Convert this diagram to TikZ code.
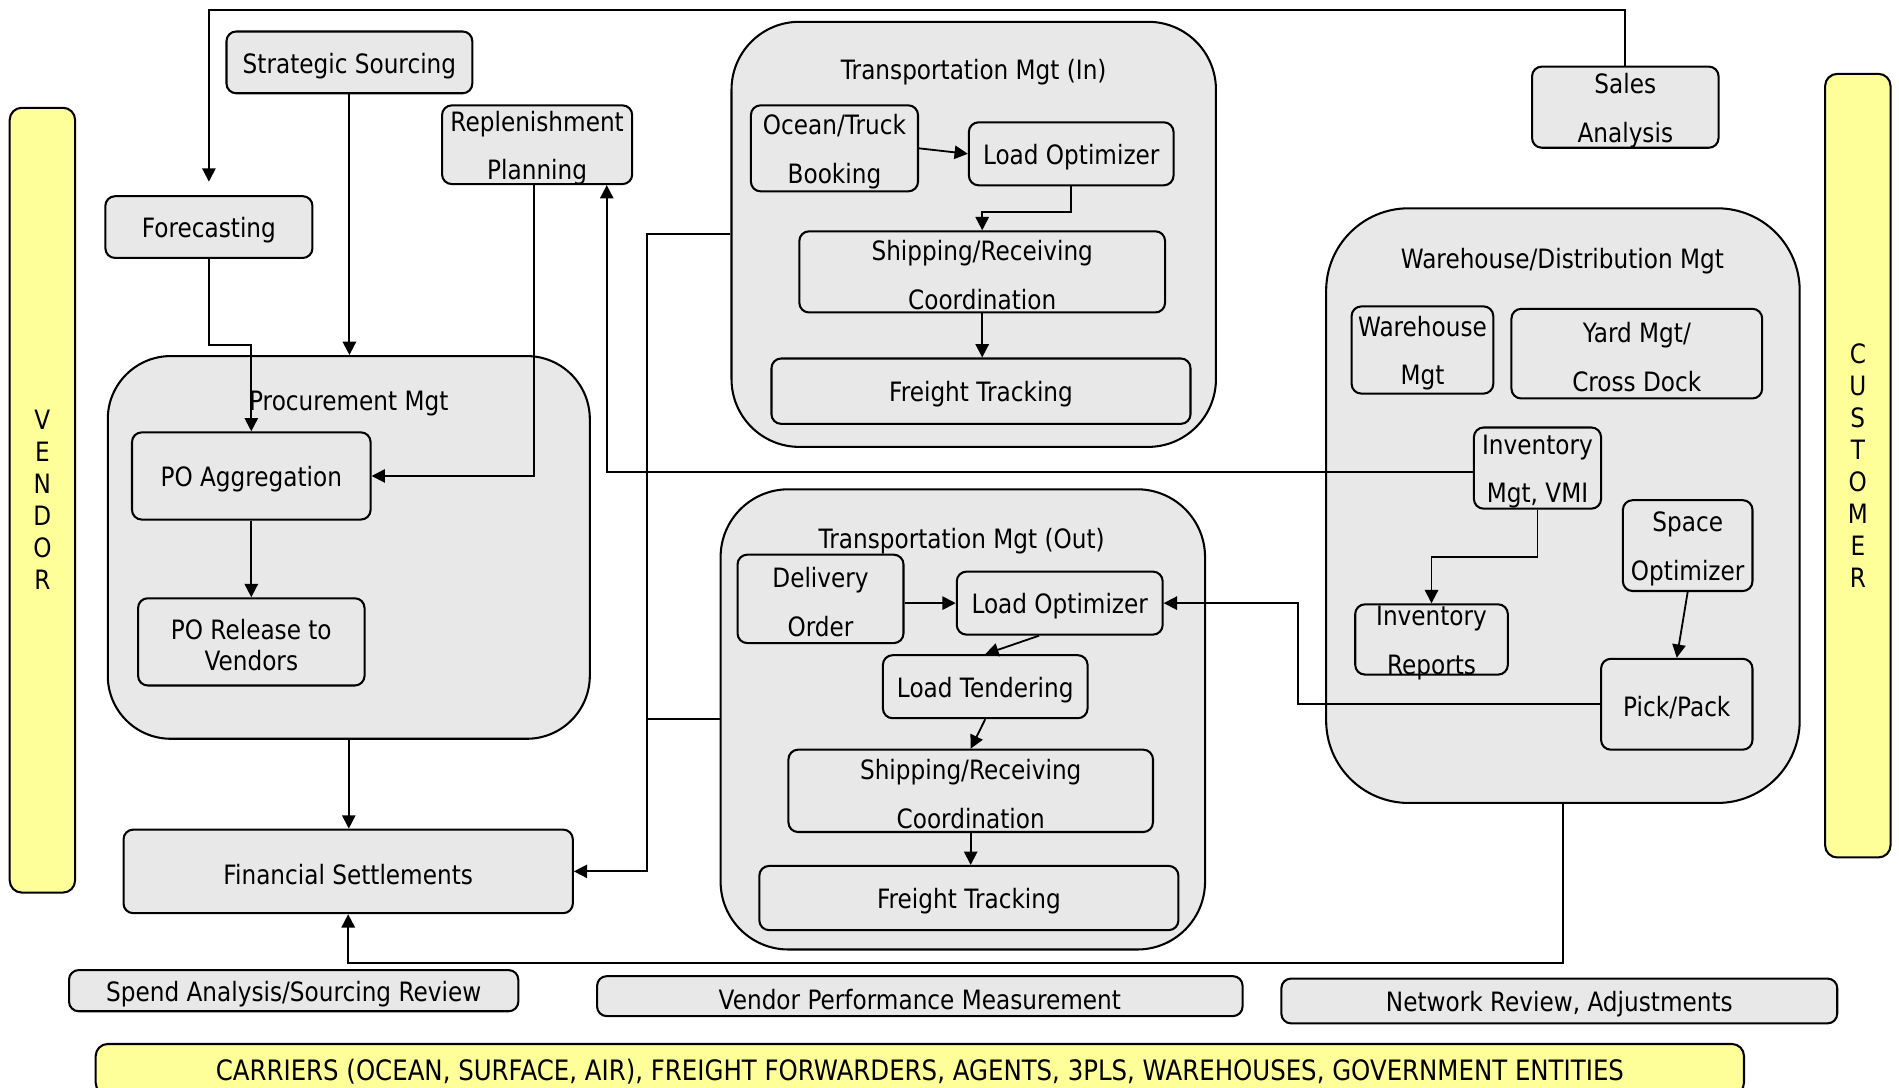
\documentclass[tikz,border=0pt]{standalone}
\usepackage{fontspec}
\setmainfont{DejaVu Sans}[FakeStretch=0.87]
\usetikzlibrary{arrows.meta}
\definecolor{boxgray}{HTML}{E8E8E8}
\definecolor{lemon}{HTML}{FFFF99}
\begin{document}
\begin{tikzpicture}[x=0.5pt,y=-0.5pt,
  sz/.style 2 args={minimum width=#1*0.5pt, minimum height=#2*0.5pt},
  base/.style={draw=black, line width=0.85pt, fill=boxgray, inner sep=0pt, font=\fontsize{11}{20}\selectfont, align=center},
  box/.style={base, rounded corners=4pt},
  group/.style={base, rounded corners=#1},
  band/.style={base, fill=lemon, rounded corners=5pt},
  ttl/.style={inner sep=0pt, font=\fontsize{11}{20}\selectfont},
  lbl/.style={inner sep=0pt, font=\fontsize{11}{20}\selectfont, align=center, yshift=-1.4pt},
  tx/.style={label={[lbl]center:#1}},
  txs/.style={label={[lbl, font=\fontsize{11}{13}\selectfont]center:#1}},
  wire/.style={draw=black, line width=0.75pt},
  arr/.style={wire, -{Triangle[length=5.5pt,width=5.5pt]}},
]
\useasboundingbox (0,0) rectangle (1568,898);
% side and bottom bands
\node[band, sz={54}{648}, font=\fontsize{11}{13.2}\selectfont] (vendor) at (35,413) {V\\E\\N\\D\\O\\R};
\node[band, sz={54}{647}, font=\fontsize{11}{13.2}\selectfont] (cust) at (1534,384.5) {C\\U\\S\\T\\O\\M\\E\\R};
\node[band, sz={1361}{42}, label={[lbl, font=\fontsize{11.6}{14}\selectfont, yshift=0.3pt]center:CARRIERS (OCEAN, SURFACE, AIR), FREIGHT FORWARDERS, AGENTS, 3PLS, WAREHOUSES, GOVERNMENT ENTITIES}] (carr) at (759.5,883) {};
% groups
\node[group=26pt, sz={398}{316}] (pm) at (288,452) {};
\node[ttl] (pmt) at (288,333.5) {Procurement Mgt};
\node[group=28pt, sz={400}{351}] (tin) at (804,193.5) {};
\node[ttl] (tint) at (804,59.5) {Transportation Mgt (In)};
\node[group=28pt, sz={400}{380}] (tout) at (795,594) {};
\node[ttl] (toutt) at (794,447) {Transportation Mgt (Out)};
\node[group=34pt, sz={391}{491}] (wh) at (1290.5,417.5) {};
\node[ttl] (wht) at (1290,215.5) {Warehouse/Distribution Mgt};
% planning / procurement
\node[box, sz={203}{51}, tx={Strategic Sourcing}] (ss) at (288.5,51.5) {};
\node[box, sz={171}{51}, tx={Forecasting}] (fc) at (172.5,187.5) {};
\node[box, sz={157}{65}, tx={Replenishment\\Planning}] (rp) at (443.5,119.5) {};
\node[box, sz={197}{72}, tx={PO Aggregation}] (poa) at (207.5,393) {};
\node[box, sz={187}{72}, txs={PO Release to\\Vendors}] (por) at (207.5,530) {};
\node[box, sz={371}{69}, tx={Financial Settlements}] (fs) at (287.5,719.5) {};
\node[box, sz={371}{34}, tx={Spend Analysis/Sourcing Review}] (sa) at (242.5,818) {};
\node[box, sz={533}{33}, tx={Vendor Performance Measurement}] (vp) at (759.5,822.5) {};
\node[box, sz={459}{37}, tx={Network Review, Adjustments}] (nr) at (1287.5,826.5) {};
\node[box, sz={154}{67}, tx={Sales\\Analysis}] (sales) at (1342,88.5) {};
% transportation in
\node[box, sz={138}{71}, tx={Ocean/Truck\\Booking}] (otb) at (689,122.5) {};
\node[box, sz={169}{52}, tx={Load Optimizer}] (loi) at (884.5,127) {};
\node[box, sz={302}{67}, tx={Shipping/Receiving\\Coordination}] (sri) at (811,224.5) {};
\node[box, sz={346}{54}, tx={Freight Tracking}] (fti) at (810,323) {};
% transportation out
\node[box, sz={137}{73}, tx={Delivery\\Order}] (dor) at (677.5,494.5) {};
\node[box, sz={170}{52}, tx={Load Optimizer}] (loo) at (875,498) {};
\node[box, sz={169}{52}, tx={Load Tendering}] (lt) at (813.5,567) {};
\node[box, sz={301}{68}, tx={Shipping/Receiving\\Coordination}] (sro) at (801.5,653) {};
\node[box, sz={346}{53}, tx={Freight Tracking}] (fto) at (800,741.5) {};
% warehouse
\node[box, sz={117}{72}, tx={Warehouse\\Mgt}] (whm) at (1174.5,289) {};
\node[box, sz={207}{74}, tx={Yard Mgt/\\Cross Dock}] (yard) at (1351.5,292) {};
\node[box, sz={105}{67}, tx={Inventory\\Mgt, VMI}] (inv) at (1269.5,386.5) {};
\node[box, sz={107}{75}, tx={Space\\Optimizer}] (so) at (1393.5,450.5) {};
\node[box, sz={126}{58}, tx={Inventory\\Reports}] (ir) at (1182,528) {};
\node[box, sz={125}{75}, tx={Pick/Pack}] (pp) at (1384.5,581.5) {};
% connectors
\coordinate (fcin) at (172.5,150);
\coordinate (bus) at (534,0);
\draw[arr] (sales.north) -- (sales.north |- 0,8) -| (fcin);
\draw[arr] (ss.south) -- (ss.south |- pm.north);
\draw[arr] (fc.south) -- (fc.south |- 0,285) -| (poa.north);
\draw[arr] (rp.south -| 441,0) |- (poa.east);
\draw[arr] (poa.south) -- (por.north);
\draw[arr] (pm.south) -- (pm.south |- fs.north);
\draw[arr] (inv.west |- 0,390) -| (rp.south -| 501,0);
\draw[arr] (tin.west) -| (bus |- fs.east) -- (fs.east);
\draw[wire] (tout.west) -- (tout.west -| bus);
\draw[arr] (pp.west) -- (pp.west -| 1072,0) |- (loo.east);
\draw[arr] (wh.south) |- (fs.south |- 0,795) -- (fs.south);
\draw[arr] (otb.east) -- (loi.west);
\draw[arr] (loi.south) -- ++(0,21) -| (sri.north);
\draw[arr] (sri.south) -- (sri.south |- fti.north);
\draw[arr] (loo.west -| dor.east) -- (loo.west);
\draw[arr] (loo.south -| 858,0) -- (lt.north);
\draw[arr] (lt.south) -- (sro.north);
\draw[arr] (sro.south) -- (sro.south |- fto.north);
\draw[arr] (inv.south) -- ++(0,39) -| (ir.north);
\draw[arr] (so.south) -- (pp.north);
\end{tikzpicture}
\end{document}
